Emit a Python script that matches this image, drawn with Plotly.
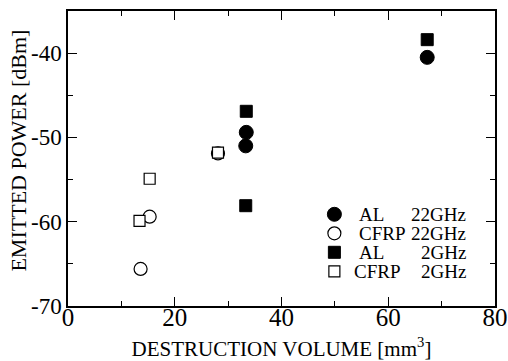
import plotly.graph_objects as go

# ---- data ----
AL22_X = [67.3, 33.4, 33.3]
AL22_Y = [-40.5, -49.4, -51.0]
CFRP22_X = [13.6, 15.3, 28.1]
CFRP22_Y = [-65.6, -59.4, -51.9]
AL2_X = [67.3, 33.4, 33.3]
AL2_Y = [-38.4, -46.9, -58.1]
CFRP2_X = [13.4, 15.3, 28.1]
CFRP2_Y = [-59.9, -54.9, -51.8]

MATERIALS = ["AL", "CFRP", "AL", "CFRP"]
FREQS = ["22GHz", "22GHz", "2GHz", "2GHz"]
X_TICKS = [0, 20, 40, 60, 80]
Y_TICKS = [-70, -60, -50, -40]
Y_TICK_LABELS = ["-70", "-60", "-50", "-40"]
X_TITLE = "DESTRUCTION VOLUME [mm<sup>3</sup>]"
Y_TITLE = "EMITTED POWER [dBm]"

FONT = "Liberation Serif"

series = [
    (AL22_X, AL22_Y, dict(symbol="circle", size=14, color="black",
                          line=dict(color="black", width=1))),
    (CFRP22_X, CFRP22_Y, dict(symbol="circle", size=13, color="white",
                              line=dict(color="black", width=1.2))),
    (AL2_X, AL2_Y, dict(symbol="square", size=12, color="black",
                        line=dict(color="black", width=1))),
    (CFRP2_X, CFRP2_Y, dict(symbol="square", size=11, color="white",
                            line=dict(color="black", width=1.2))),
]

fig = go.Figure()
for (xs, ys, mk), m, f in zip(series, MATERIALS, FREQS):
    fig.add_trace(go.Scatter(x=xs, y=ys, mode="markers", marker=mk,
                             name="\u200b", hovertext=f"{m} {f}",
                             showlegend=True))

# legend text as annotations aligned with the legend rows
row_y = [0.309, 0.245, 0.181, 0.117]
for i, (m, f) in enumerate(zip(MATERIALS, FREQS)):
    fig.add_annotation(x=0.676 if i < 3 else 0.664, y=row_y[i],
                       xref="paper", yref="paper", text=m, showarrow=False,
                       xanchor="left", yanchor="middle",
                       font=dict(family=FONT, size=19, color="black"))
    fig.add_annotation(x=0.937, y=row_y[i], xref="paper", yref="paper",
                       text=f, showarrow=False, xanchor="right",
                       yanchor="middle",
                       font=dict(family=FONT, size=19, color="black"))

# y-axis title (placed as rotated text for exact positioning)
fig.add_annotation(x=-0.117, y=0.527, xref="paper", yref="paper",
                   text=Y_TITLE, textangle=-90, showarrow=False,
                   xanchor="center", yanchor="middle",
                   font=dict(family=FONT, size=22, color="black"))

axis_common = dict(showline=True, linecolor="black", linewidth=1.5,
                   mirror="ticks", ticks="inside", ticklen=9, tickwidth=1,
                   tickcolor="black", showgrid=False, zeroline=False,
                   automargin=False)

fig.update_layout(
    width=508, height=361,
    margin=dict(l=68, r=13, t=11, b=55),
    paper_bgcolor="white", plot_bgcolor="white",
    font=dict(family=FONT, color="black"),
    showlegend=True,
    legend=dict(x=0.577, y=0.36, xanchor="left", yanchor="top",
                bgcolor="rgba(0,0,0,0)", borderwidth=0,
                font=dict(size=10), tracegroupgap=0),
    xaxis=dict(range=[0, 80], tickvals=X_TICKS,
               tickfont=dict(size=25, family=FONT),
               ticklabelstandoff=-12,
               title=dict(text=X_TITLE, font=dict(size=21, family=FONT)),
               minor=dict(dtick=10, ticks="inside", ticklen=5,
                          tickcolor="black", showgrid=False),
               **axis_common),
    yaxis=dict(range=[-70, -35], tickvals=Y_TICKS, ticktext=Y_TICK_LABELS,
               tickfont=dict(size=23, family=FONT),
               minor=dict(tick0=-70, dtick=5, ticks="inside", ticklen=5,
                          tickcolor="black", showgrid=False),
               **axis_common),
)

fig.write_html("out.html", config={"displayModeBar": False},
               post_script="document.body.style.margin='0';")
